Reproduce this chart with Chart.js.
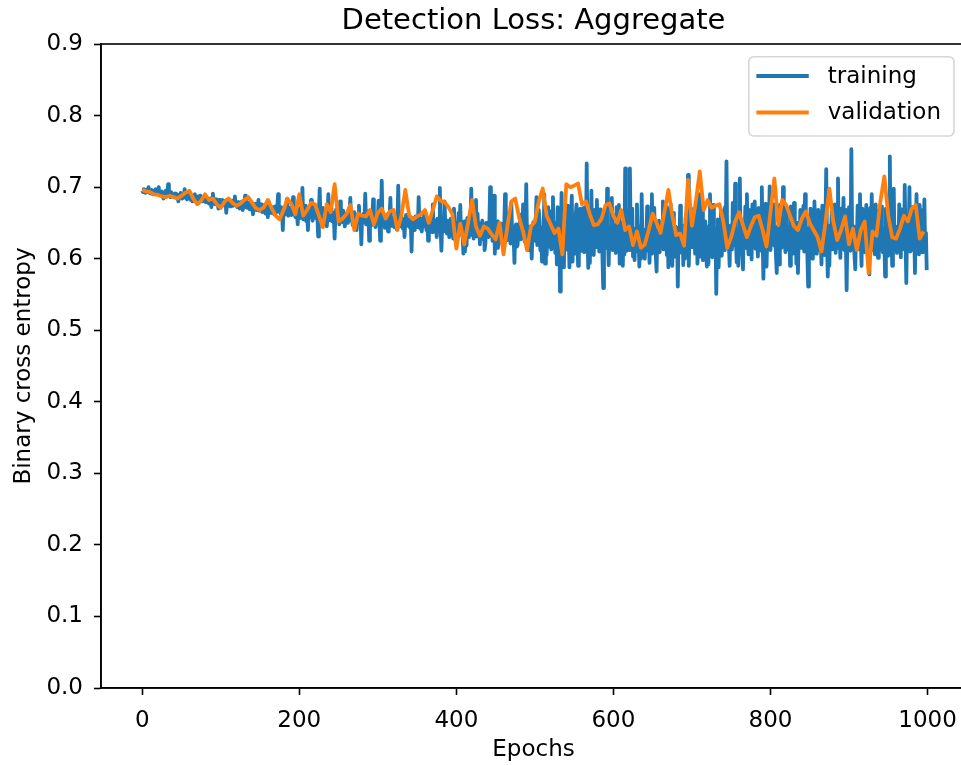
<!DOCTYPE html>
<html>
<head>
<meta charset="utf-8">
<script src="https://cdn.jsdelivr.net/npm/chart.js@4.4.1/dist/chart.umd.min.js"></script>
<style>
  html, body { margin: 0; padding: 0; background: #fff; overflow: hidden; }
  #wrap { width: 970px; height: 765px; }
</style>
</head>
<body>
<div id="wrap"><canvas id="c" width="970" height="765"></canvas></div>
<script>
// ---------- data ----------
const chartTitle = 'Detection Loss: Aggregate';
const seriesNames = ['training', 'validation'];
const xTicks = [0, 200, 400, 600, 800, 1000];
const yTicks = [0, 0.1, 0.2, 0.3, 0.4, 0.5, 0.6, 0.7, 0.8, 0.9];
const validationEvery = 5; // validation measured every 5 epochs

// training loss, one value per epoch (0..999)
const training = [
.695,.693,.697,.694,.692,.696,.693,.695,.700,.692,.694,.691,.696,.693,.690,.695,.692,.697,.693,.691,
.692,.700,.690,.693,.689,.694,.691,.684,.692,.689,.695,.688,.691,.704,.689,.692,.686,.693,.690,.688,
.689,.686,.691,.687,.690,.685,.680,.689,.686,.692,.687,.684,.689,.686,.697,.685,.688,.683,.690,.686,
.684,.688,.682,.686,.680,.687,.684,.690,.681,.685,.683,.687,.678,.684,.688,.682,.686,.680,.685,.683,
.682,.679,.685,.680,.683,.677,.681,.684,.672,.680,.691,.679,.682,.676,.683,.680,.678,.670,.682,.679,
.680,.676,.682,.677,.679,.674,.681,.664,.678,.675,.683,.677,.673,.679,.676,.681,.674,.678,.687,.675,
.677,.672,.679,.674,.670,.677,.673,.680,.668,.675,.678,.688,.672,.676,.671,.678,.674,.669,.677,.673,
.674,.662,.675,.670,.677,.668,.673,.671,.682,.667,.674,.669,.676,.665,.672,.670,.675,.663,.673,.669,
.658,.680,.668,.671,.664,.672,.667,.670,.662,.673,.668,.665,.671,.690,.666,.669,.663,.672,.667,.640,
.668,.664,.671,.662,.683,.666,.660,.670,.665,.672,.661,.668,.686,.664,.669,.658,.671,.665,.648,.667,
.668,.657,.672,.661,.699,.655,.667,.660,.674,.652,.663,.640,.670,.658,.666,.682,.661,.653,.671,.660,
.665,.657,.670,.660,.631,.667,.698,.655,.664,.659,.671,.650,.663,.657,.668,.645,.661,.690,.654,.666,
.659,.670,.652,.664,.657,.628,.662,.669,.654,.660,.666,.648,.680,.656,.663,.651,.667,.658,.645,.661,
.655,.664,.650,.660,.668,.685,.653,.661,.647,.658,.665,.652,.659,.640,.662,.654,.674,.649,.657,.620,
.659,.651,.663,.655,.691,.648,.658,.653,.666,.625,.656,.661,.647,.655,.683,.652,.659,.644,.657,.650,
.656,.681,.650,.625,.658,.709,.647,.654,.660,.643,.655,.649,.662,.638,.652,.657,.685,.646,.654,.650,
.657,.644,.653,.660,.641,.651,.702,.648,.656,.645,.659,.650,.642,.655,.630,.653,.661,.646,.652,.648,
.655,.643,.651,.610,.657,.646,.650,.640,.659,.648,.653,.644,.686,.649,.642,.656,.638,.652,.647,.660,
.645,.652,.640,.655,.625,.649,.657,.643,.651,.637,.676,.646,.654,.641,.650,.630,.656,.644,.649,.699,
.640,.611,.650,.645,.638,.680,.643,.649,.635,.653,.641,.630,.647,.656,.639,.644,.628,.670,.642,.648,
.638,.650,.632,.664,.640,.675,.634,.648,.629,.607,.652,.610,.641,.618,.657,.630,.645,.638,.649,.698,
.633,.646,.628,.651,.639,.682,.631,.663,.637,.649,.620,.642,.635,.653,.627,.645,.612,.621,.650,.632,
.644,.630,.648,.700,.636,.662,.625,.650,.688,.607,.643,.634,.652,.615,.639,.646,.631,.649,.622,.640,
.636,.645,.690,.630,.642,.626,.647,.664,.640,.621,.678,.637,.644,.629,.594,.641,.648,.617,.619,.643,
.635,.662,.627,.640,.632,.676,.638,.624,.643,.704,.630,.641,.615,.612,.645,.628,.600,.639,.651,.633,
.625,.648,.686,.619,.640,.668,.652,.612,.644,.596,.637,.621,.690,.593,.646,.605,.639,.672,.617,.642,
.666,.613,.647,.686,.624,.641,.608,.650,.592,.672,.619,.645,.554,.628,.692,.615,.640,.588,.651,.622,
.634,.674,.612,.640,.588,.637,.654,.688,.596,.643,.607,.632,.660,.676,.645,.590,.638,.625,.670,.611,
.641,.626,.671,.609,.637,.618,.733,.630,.587,.646,.594,.640,.695,.613,.635,.605,.668,.627,.616,.682,
.628,.644,.610,.669,.621,.650,.604,.559,.642,.662,.636,.615,.698,.631,.591,.645,.623,.634,.685,.612,
.640,.619,.647,.608,.672,.630,.614,.675,.593,.637,.651,.617,.590,.645,.606,.726,.633,.611,.668,.624,
.612,.726,.635,.620,.670,.603,.639,.598,.642,.626,.676,.610,.634,.589,.645,.600,.690,.622,.637,.614,
.600,.641,.628,.673,.611,.638,.594,.646,.607,.690,.631,.616,.671,.625,.604,.582,.640,.620,.653,.609,
.636,.627,.648,.680,.613,.639,.621,.672,.605,.642,.588,.633,.618,.676,.626,.590,.664,.630,.603,.645,
.624,.643,.561,.637,.615,.674,.629,.608,.646,.591,.639,.600,.658,.625,.612,.717,.590,.641,.627,.669,
.616,.635,.622,.670,.607,.641,.680,.593,.633,.603,.690,.627,.611,.673,.598,.637,.624,.652,.609,.589,
.640,.592,.646,.690,.612,.635,.602,.675,.626,.614,.642,.551,.631,.655,.588,.638,.621,.668,.604,.643,
.625,.612,.672,.631,.736,.617,.639,.622,.590,.646,.628,.613,.678,.634,.619,.705,.626,.595,.641,.590,
.637,.712,.620,.648,.610,.585,.643,.624,.673,.615,.690,.630,.606,.668,.618,.636,.599,.676,.622,.640,
.680,.614,.645,.627,.603,.671,.619,.638,.611,.700,.629,.572,.642,.617,.677,.589,.634,.621,.648,.701,
.612,.640,.625,.669,.676,.618,.636,.604,.580,.645,.623,.592,.675,.630,.615,.642,.700,.620,.637,.609,
.670,.626,.613,.644,.631,.590,.673,.618,.639,.607,.678,.625,.641,.593,.650,.580,.633,.621,.668,.615,
.637,.622,.674,.610,.690,.628,.643,.604,.561,.639,.618,.670,.626,.600,.642,.615,.680,.631,.607,.667,
.620,.668,.612,.638,.627,.592,.674,.616,.635,.605,.652,.725,.623,.575,.641,.590,.646,.629,.666,.613,
.638,.621,.676,.608,.643,.626,.712,.615,.634,.601,.670,.619,.637,.685,.612,.668,.624,.556,.640,.617,
.672,.628,.611,.753,.636,.620,.645,.604,.585,.639,.624,.674,.613,.642,.690,.627,.590,.670,.618,.635,
.609,.643,.675,.622,.638,.615,.578,.671,.626,.690,.612,.640,.628,.606,.676,.619,.636,.601,.667,.623,
.614,.673,.631,.609,.642,.625,.575,.670,.618,.637,.604,.646,.743,.621,.635,.590,.652,.698,.616,.639,
.626,.608,.645,.619,.676,.631,.602,.669,.623,.640,.613,.703,.628,.566,.644,.617,.636,.700,.610,.668,
.621,.672,.612,.638,.580,.645,.690,.618,.633,.606,.675,.624,.641,.609,.668,.627,.683,.614,.636,.584
];

// validation loss, one value every 5 epochs (0, 5, ..., 995)
const validation = [
.696,.694,.693,.690,.689,.687,.686,.688,.686,.684,
.688,.692,.695,.684,.676,.681,.690,.682,.684,.676,
.671,.680,.684,.678,.674,.677,.682,.686,.678,.670,
.668,.672,.682,.670,.660,.655,.668,.684,.676,.662,
.690,
.660,.668,.678,.676,.660,.644,.676,.665,.704,.652,
.656,.662,.675,.640,.663,.660,.659,.668,.648,.664,
.670,.656,.666,.668,.640,.660,.696,.660,.655,.659,
.662,.668,.650,.668,.687,.681,.679,.672,.662,.614,
.649,.620,
.650,.682,.645,.632,.645,.642,.634,.627,.650,.606,
.645,.680,.684,.657,.638,.612,.645,.652,.680,.698,
.660,.648,.636,.642,.606,.704,.700,.702,.705,.676,
.680,.662,.647,.648,.656,.675,.677,.660,.650,.668,
.640,.645,.619,.638,.615,.620,.640,.663,.650,.636,
.665,.696,.660,.633,.635,.618,.710,.646,.680,.722,
.668,.682,.671,.674,.676,.652,.615,.630,.652,.665,
.647,.630,.645,.658,.660,.640,.617,.665,.712,.647,
.682,
.675,.660,.645,.640,.656,.666,.650,.640,.630,.610,
.650,.698,.652,.626,.640,.659,.620,.642,.612,.640,
.652,.580,.638,.632,.680,.715,.660,.630,.628,.642,
.660,.652,.670,.675,.628,.638
];

// ---------- chart ----------
const FONT = 'DejaVu Sans';
const BLUE = '#1f77b4';
const ORANGE = '#ff7f0e';
const LINE_W = 3.8;

const trainingPts = training.map((v, i) => ({ x: i, y: v }));
const validationPts = validation.map((v, i) => ({ x: i * validationEvery, y: v }));

// title centred over the axes (matplotlib style)
const axesTitlePlugin = {
  id: 'axesTitle',
  afterDraw(chart) {
    const a = chart.chartArea, ctx = chart.ctx;
    ctx.save();
    ctx.font = '29px "' + FONT + '"';
    ctx.fillStyle = '#000';
    ctx.textAlign = 'center';
    ctx.textBaseline = 'middle';
    ctx.fillText(chartTitle, (a.left + a.right) / 2, 21.5);
    ctx.restore();
  }
};

const framePlugin = {
  id: 'frame',
  afterDatasetsDraw(chart) {
    const a = chart.chartArea, ctx = chart.ctx;
    ctx.save();
    ctx.strokeStyle = '#000';
    ctx.lineWidth = 1.6;
    ctx.strokeRect(a.left, a.top, a.right - a.left, a.bottom - a.top);
    ctx.restore();
  }
};

const legendPlugin = {
  id: 'boxLegend',
  afterDraw(chart) {
    const a = chart.chartArea, ctx = chart.ctx;
    const ds = chart.data.datasets;
    ctx.save();
    ctx.font = '23px "' + FONT + '"';
    let tw = 0;
    ds.forEach(d => { tw = Math.max(tw, ctx.measureText(d.label).width); });
    const w = 79 + tw + 13;
    const h = 79.3;
    const x = 954 - w;
    const y = a.top + 12.7;
    ctx.beginPath();
    ctx.roundRect(x, y, w, h, 5);
    ctx.fillStyle = 'rgba(255,255,255,0.8)';
    ctx.fill();
    ctx.strokeStyle = 'rgba(204,204,204,0.8)';
    ctx.lineWidth = 1.6;
    ctx.stroke();
    ds.forEach((d, i) => {
      const cy = y + 19.3 + i * 36.5;
      ctx.beginPath();
      ctx.moveTo(x + 7.6, cy);
      ctx.lineTo(x + 60, cy);
      ctx.strokeStyle = d.borderColor;
      ctx.lineWidth = LINE_W;
      ctx.stroke();
      ctx.fillStyle = '#000';
      ctx.textBaseline = 'middle';
      ctx.textAlign = 'left';
      ctx.fillText(d.label, x + 79, cy + 1);
    });
    ctx.restore();
  }
};

Chart.defaults.font.family = FONT;
Chart.defaults.color = '#000';

new Chart(document.getElementById('c'), {
  type: 'line',
  data: {
    datasets: [
      { label: seriesNames[0], data: trainingPts, borderColor: BLUE, backgroundColor: BLUE,
        borderWidth: LINE_W, pointRadius: 0, tension: 0, borderJoinStyle: 'round', order: 2 },
      { label: seriesNames[1], data: validationPts, borderColor: ORANGE, backgroundColor: ORANGE,
        borderWidth: LINE_W, pointRadius: 0, tension: 0, borderJoinStyle: 'round', order: 1 }
    ]
  },
  options: {
    responsive: false,
    animation: false,
    devicePixelRatio: 1,
    layout: { padding: { left: 0, right: 4, top: 44, bottom: 0 } },
    plugins: {
      legend: { display: false },
      tooltip: { enabled: false },
      title: { display: false }
    },
    scales: {
      x: {
        type: 'linear',
        min: -52.5,
        max: 1049,
        afterBuildTicks(s) { s.ticks = xTicks.map(v => ({ value: v })); },
        afterFit(s) { s.height = 77; },
        ticks: {
          font: { family: FONT, size: 23 },
          color: '#000',
          padding: 12,
          maxRotation: 0,
          autoSkip: false,
          callback: v => String(v)
        },
        grid: { drawOnChartArea: false, drawTicks: true, tickLength: 7, tickColor: '#000', tickWidth: 1.6 },
        border: { display: true, color: '#000', width: 1.6 },
        title: { display: true, text: 'Epochs', color: '#000',
          font: { family: FONT, size: 23, lineHeight: 1.2 }, padding: { top: 0, bottom: 1 } }
      },
      y: {
        type: 'linear',
        min: 0,
        max: 0.9,
        afterBuildTicks(s) { s.ticks = yTicks.map(v => ({ value: v })); },
        afterFit(s) { s.width = 101; },
        ticks: {
          font: { family: FONT, size: 23 },
          color: '#000',
          padding: 11,
          autoSkip: false,
          callback: v => Number(v).toFixed(1)
        },
        grid: { drawOnChartArea: false, drawTicks: true, tickLength: 7, tickColor: '#000', tickWidth: 1.6 },
        border: { display: true, color: '#000', width: 1.6 },
        title: { display: true, text: 'Binary cross entropy', color: '#000',
          font: { family: FONT, size: 23, lineHeight: 1.2 }, padding: { top: 10, bottom: 0 } }
      }
    }
  },
  plugins: [framePlugin, axesTitlePlugin, legendPlugin]
});
</script>
</body>
</html>
